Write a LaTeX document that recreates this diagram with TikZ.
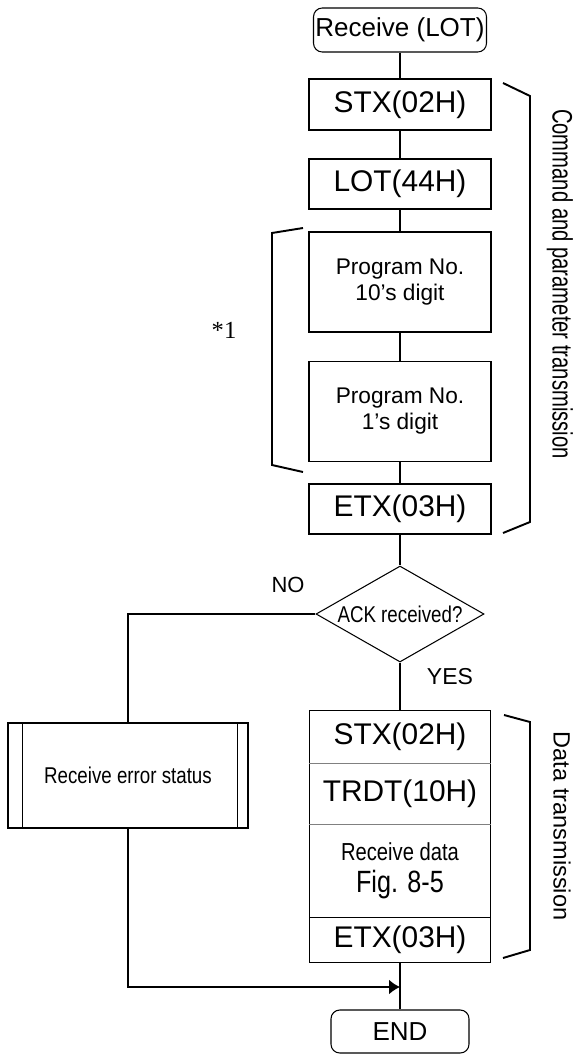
\documentclass[tikz,border=0pt]{standalone}
\usepackage{fontspec}
\setmainfont{Liberation Sans}
\newfontfamily\narrowfont[FakeStretch=0.82]{Liberation Sans}
\newfontfamily\slimfont[FakeStretch=0.72]{Liberation Sans}
\newfontfamily\timesfont{Liberation Serif}
\usetikzlibrary{shapes.geometric,arrows.meta}

\begin{document}
\begin{tikzpicture}[
    box/.style={draw, line width=0.6pt, minimum width=3.64cm, inner sep=0pt, font=\fontsize{17}{20}\selectfont},
    terminal/.style={draw, line width=0.6pt, rounded corners=5pt, inner sep=0pt, font=\fontsize{14.8}{17}\selectfont},
    progbox/.style={box, minimum height=2cm, align=center, font=\fontsize{12.9}{14.8}\selectfont},
    field/.style={minimum width=3.62cm, inner sep=0pt, font=\fontsize{17}{20}\selectfont},
    flow/.style={line width=0.6pt},
    branch/.style={line width=1pt},
    bracket/.style={line width=1.1pt},
]
    \useasboundingbox (0,0) rectangle (11.48,-21.1);

    % Command and parameter part
    \node[terminal, minimum width=3.46cm, minimum height=0.88cm] (start) at (8,-0.6) {Receive (LOT)};
    \node[box, minimum height=1.02cm] (stx) at (8,-2.09) {STX(02H)};
    \node[box, minimum height=1cm] (lot) at (8,-3.68) {LOT(44H)};
    \node[progbox] (prog10) at (8,-5.64) {Program No.\\10's digit};
    \node[progbox] (prog1) at (8,-8.23) {Program No.\\1's digit};
    \node[box, minimum height=1cm] (etx) at (8,-10.18) {ETX(03H)};

    % Decision
    \node[diamond, draw, line width=0.6pt, shape aspect=1.75, minimum width=3.36cm, minimum height=1.92cm, inner sep=0pt, font=\narrowfont\fontsize{13}{15}\selectfont] (ack) at (8,-12.28) {ACK received?};
    \node[font=\fontsize{12.5}{15}\selectfont] (no) at (5.76,-11.7) {NO};
    \node[font=\fontsize{13.1}{15}\selectfont] (yes) at (9.0,-13.54) {YES};

    % Data part (one box, split in fields)
    \node[field, minimum height=1.04cm] (dstx) at (8,-14.74) {STX(02H)};
    \node[field, minimum height=1.22cm] (dtrdt) at (8,-15.87) {TRDT(10H)};
    \node[field, minimum height=1.86cm, align=center, font=\narrowfont\fontsize{14}{16}\selectfont] (drecv) at (8,-17.41) {Receive data\\[2pt]{\fontsize{17.5}{20}\selectfont Fig. 8-5}};
    \node[field, minimum height=0.9cm] (detx) at (8,-18.79) {ETX(03H)};
    \draw[flow] (dstx.north west) rectangle (detx.south east);
    \draw[gray, line width=0.8pt] (dstx.south west) -- (dstx.south east);
    \draw[gray, line width=0.8pt] (dtrdt.south west) -- (dtrdt.south east);
    \draw[flow] (drecv.south west) -- (drecv.south east);

    \node[terminal, minimum width=2.76cm, minimum height=0.86cm] (stop) at (8,-20.63) {END};

    % Error branch
    \node[draw, line width=0.6pt, minimum width=4.8cm, minimum height=2.1cm, font=\narrowfont\fontsize{13}{15}\selectfont] (err) at (2.56,-15.51) {Receive error status};
    \draw[flow] ([xshift=0.3cm]err.north west) -- ([xshift=0.3cm]err.south west);
    \draw[flow] ([xshift=-0.22cm]err.north east) -- ([xshift=-0.22cm]err.south east);

    % Flow lines
    \draw[flow] (start) -- (stx);
    \draw[flow] (stx) -- (lot);
    \draw[flow] (lot) -- (prog10);
    \draw[flow] (prog10) -- (prog1);
    \draw[flow] (prog1) -- (etx);
    \draw[flow] (etx) -- (ack);
    \draw[flow] (ack) -- (dstx);
    \draw[flow] (detx) -- (stop);

    \coordinate (join) at (8,-19.74);
    \draw[branch] (ack.west) -| (err.north);
    \draw[branch, -{Latex[length=0.22cm, width=0.3cm]}] (err.south) |- (join);

    % Brackets
    \node[font=\timesfont\fontsize{14}{17}\selectfont] (note) at (4.48,-6.6) {*1};
    \draw[bracket] (6.06,-4.56) -- (5.44,-4.66) -- (5.44,-9.3) -- (6.06,-9.44);
    \draw[bracket] (10.06,-1.66) -- (10.6,-1.92) -- (10.6,-10.44) -- (10.06,-10.66);
    \draw[bracket] (10.08,-14.3) -- (10.6,-14.44) -- (10.6,-19.0) -- (10.06,-19.16);
    \node[rotate=-90, font=\slimfont\fontsize{16}{19}\selectfont] (cmdlabel) at (11.2,-5.68) {Command and parameter transmission};
    \node[rotate=-90, font=\fontsize{13.4}{16}\selectfont] (datalabel) at (11.24,-16.52) {Data transmission};
\end{tikzpicture}
\end{document}
